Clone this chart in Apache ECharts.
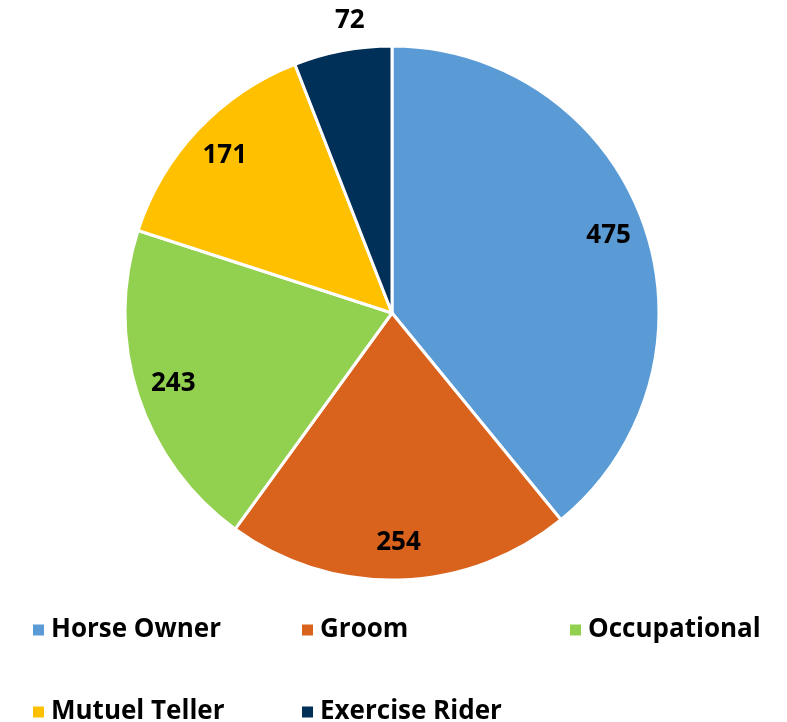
<!DOCTYPE html>
<html>
<head>
<meta charset="utf-8">
<script src="https://cdn.jsdelivr.net/npm/echarts@6/dist/echarts.min.js"></script>
<style>
  html, body { margin: 0; padding: 0; background: #fff; }
  #chart { width: 787px; height: 722px; }
</style>
</head>
<body>
<div id="chart"></div>
<script>
const categories = ['Horse Owner', 'Groom', 'Occupational', 'Mutuel Teller', 'Exercise Rider'];
const counts = [475, 254, 243, 171, 72];
const colors = ['#5B9BD5', '#D9621C', '#92D050', '#FFC000', '#002F57'];

const chart = echarts.init(document.getElementById('chart'));

const fontFamily = '"Open Sans", Lato, sans-serif';
const labelFont = { fontFamily: fontFamily, fontWeight: 'bold', fontSize: 26, color: '#000' };

const pieData = categories.map((name, i) => ({ name: name, value: counts[i], itemStyle: { color: colors[i] } }));

// labels for the large slices sit near the rim, the small one sits above the pie
const innerLabelData = categories.map((name, i) => ({
  name: name,
  value: counts[i],
  label: { show: i < 4 }
}));
const outerLabelData = categories.map((name, i) => ({
  name: name,
  value: counts[i],
  label: { show: i === 4, padding: [0, 0, 0, 26] }
}));

const legendPos = [
  { left: 26, top: 612 },
  { left: 295, top: 612 },
  { left: 563, top: 612 },
  { left: 26, top: 694 },
  { left: 295, top: 694 }
];

chart.setOption({
  animation: false,
  legend: categories.map((name, i) => ({
    data: [name],
    left: legendPos[i].left,
    top: legendPos[i].top,
    icon: 'rect',
    itemWidth: 13,
    itemHeight: 13,
    selectedMode: false,
    textStyle: { fontFamily: fontFamily, fontWeight: 'bold', fontSize: 26, color: '#000', padding: [0, 0, 0, 1] }
  })),
  series: [
    {
      name: 'main',
      type: 'pie',
      center: [392, 313],
      radius: [0, 267],
      startAngle: 90,
      clockwise: true,
      data: pieData,
      label: { show: false },
      labelLine: { show: false },
      itemStyle: { borderColor: '#fff', borderWidth: 3 },
      emphasis: { disabled: true }
    },
    {
      name: 'labels',
      type: 'pie',
      center: [392, 313],
      radius: [182, 272],
      startAngle: 90,
      silent: true,
      data: innerLabelData,
      itemStyle: { color: 'rgba(0,0,0,0)' },
      label: Object.assign({ position: 'inside', formatter: '{c}' }, labelFont),
      labelLine: { show: false },
      emphasis: { disabled: true }
    },
    {
      name: 'outerLabels',
      type: 'pie',
      center: [392, 313],
      radius: [272, 318],
      startAngle: 90,
      silent: true,
      data: outerLabelData,
      itemStyle: { color: 'rgba(0,0,0,0)' },
      label: Object.assign({ position: 'inside', formatter: '{c}' }, labelFont),
      labelLine: { show: false },
      emphasis: { disabled: true }
    }
  ]
});
</script>
</body>
</html>
